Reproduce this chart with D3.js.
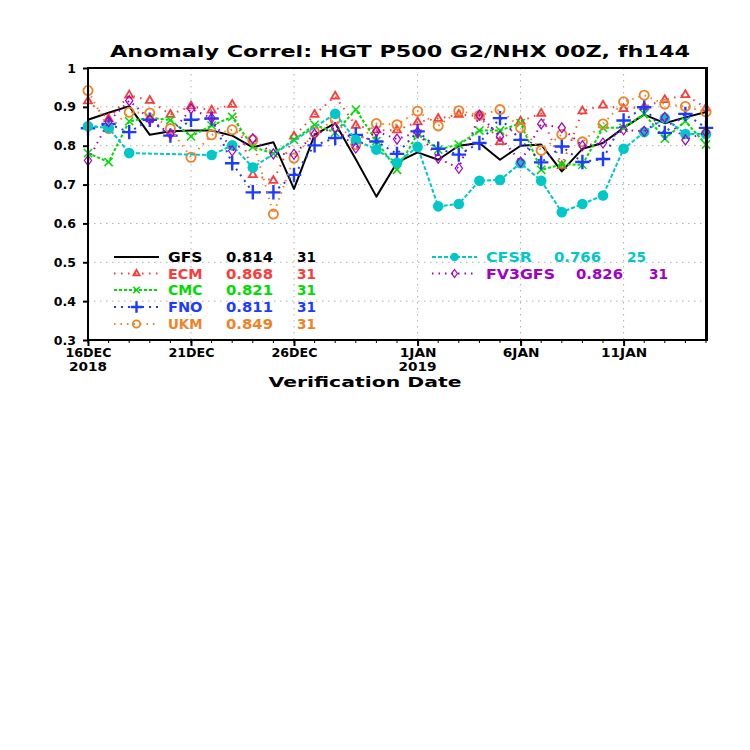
<!DOCTYPE html>
<html>
<head>
<meta charset="utf-8">
<script src="https://cdn.jsdelivr.net/npm/d3@7"></script>
<style>
  body { margin: 0; background: #fff; }
  svg { display: block; }
  text { font-family: "DejaVu Sans", sans-serif; font-weight: bold; }
</style>
</head>
<body>
<div id="chart"></div>
<script>
// ---- data ----
const startDay = Date.UTC(2018, 11, 16);
const days = d3.range(31).map(i => new Date(startDay + i * 864e5));

const gfs = [0.867, 0.885, 0.902, 0.828, 0.837, 0.839, 0.839, 0.826, 0.796, 0.809, 0.689,
  0.828, 0.858, 0.765, 0.669, 0.757, 0.783, 0.764, 0.800, 0.807, 0.764, 0.800, 0.803,
  0.734, 0.792, 0.807, 0.846, 0.880, 0.858, 0.873, 0.887];
const ecm = [0.915, 0.869, 0.930, 0.916, 0.880, 0.902, 0.891, 0.906, 0.725, 0.710, 0.824,
  0.880, 0.927, 0.852, 0.840, 0.840, 0.861, 0.870, 0.880, 0.876, 0.810, 0.863, 0.883,
  0.748, 0.889, 0.904, 0.895, 0.900, 0.918, 0.931, 0.897];
const cmc = [0.781, 0.758, 0.863, 0.872, 0.866, 0.824, 0.852, 0.874, 0.797, 0.780, 0.815,
  0.854, 0.834, 0.893, 0.812, 0.738, 0.831, 0.790, 0.803, 0.839, 0.839, 0.858, 0.738,
  0.752, 0.751, 0.846, 0.846, 0.882, 0.818, 0.863, 0.803];
const fno = [0.845, 0.856, 0.835, 0.867, 0.826, 0.867, 0.870, 0.755, 0.680, 0.680, 0.725,
  0.801, 0.820, 0.828, 0.811, 0.779, 0.837, 0.792, 0.777, 0.807, 0.871, 0.815, 0.757,
  0.798, 0.758, 0.766, 0.865, 0.899, 0.833, 0.882, 0.846];
const ukm = [0.942, 0.844, 0.886, 0.884, 0.844, 0.770, 0.828, 0.841, 0.815, 0.624, 0.768,
  0.835, 0.867, 0.803, 0.857, 0.854, 0.889, 0.851, 0.890, 0.878, 0.893, 0.846, 0.788,
  0.829, 0.810, 0.856, 0.913, 0.930, 0.907, 0.901, 0.887];
const cfsr = [0.850, 0.846, 0.781, null, null, null, 0.776, 0.801, 0.744, null, null,
  null, 0.882, 0.815, 0.790, 0.756, 0.797, 0.644, 0.650, 0.710, 0.712, 0.755, 0.710,
  0.629, 0.650, 0.672, 0.792, 0.835, 0.871, 0.830, 0.830];
const fv3gfs = [0.762, 0.862, 0.916, 0.868, 0.830, 0.895, 0.871, 0.787, 0.818, 0.779, 0.778,
  0.830, 0.846, 0.794, 0.837, 0.817, 0.835, 0.768, 0.742, 0.879, 0.824, 0.758, 0.856,
  0.846, 0.800, 0.807, 0.841, 0.837, 0.873, 0.815, 0.835];

const yTicks = [0.3, 0.4, 0.5, 0.6, 0.7, 0.8, 0.9, 1];
const yTickLabels = ["0.3", "0.4", "0.5", "0.6", "0.7", "0.8", "0.9", "1"];
const xTickDays = [0, 5, 10, 16, 21, 26];
const xTickLabels = ["16DEC", "21DEC", "26DEC", "1JAN", "6JAN", "11JAN"];
const yearLabels = [{ day: 0, text: "2018" }, { day: 16, text: "2019" }];

const series = [
  { name: "GFS", mean: "0.814", n: "31", values: gfs, color: "#000000", dash: null, width: 2, marker: null },
  { name: "ECM", mean: "0.868", n: "31", values: ecm, color: "#fa3c3c", dash: "1.5,5.5", width: 2, marker: "triangle" },
  { name: "CMC", mean: "0.821", n: "31", values: cmc, color: "#00dc00", dash: "3,2", width: 2, marker: "times" },
  { name: "FNO", mean: "0.811", n: "31", values: fno, color: "#1e3cff", dash: "2,5", width: 2, marker: "plus" },
  { name: "UKM", mean: "0.849", n: "31", values: ukm, color: "#f08228", dash: "1.5,5", width: 2, marker: "circle" },
  { name: "CFSR", mean: "0.766", n: "25", values: cfsr, color: "#00c8c8", dash: "4,2", width: 2, marker: "dot" },
  { name: "FV3GFS", mean: "0.826", n: "31", values: fv3gfs, color: "#a000c8", dash: "1.5,5", width: 2, marker: "diamond" }
];

// ---- layout ----
const width = 750, height = 750;
const plot = { left: 88, right: 706, top: 68, bottom: 340 };

const svg = d3.select("#chart").append("svg")
  .attr("width", width)
  .attr("height", height);

svg.append("rect").attr("width", width).attr("height", height).attr("fill", "#fff");

const x = d3.scaleUtc().domain([days[0], days[30]]).range([plot.left, plot.right]);
const y = d3.scaleLinear().domain([0.3, 1]).range([plot.bottom, plot.top]);

// grid
const grid = svg.append("g").attr("stroke", "#b0b0b0").attr("stroke-width", 1)
  .attr("stroke-dasharray", "1.5,4.5");
grid.selectAll("line.h")
  .data(yTicks.slice(1, -1))
  .join("line")
  .attr("x1", plot.left).attr("x2", plot.right)
  .attr("y1", d => y(d)).attr("y2", d => y(d));
grid.selectAll("line.v")
  .data(xTickDays.slice(1))
  .join("line")
  .attr("x1", d => x(days[d])).attr("x2", d => x(days[d]))
  .attr("y1", plot.top).attr("y2", plot.bottom);

// y axis
const yAxis = svg.append("g")
  .attr("transform", `translate(${plot.left},0)`)
  .call(d3.axisLeft(y).tickValues(yTicks).tickSize(5).tickPadding(7)
    .tickFormat((d, i) => yTickLabels[i]));
yAxis.select(".domain").remove();
yAxis.selectAll("line").attr("stroke", "#000").attr("stroke-width", 2);
yAxis.selectAll("text")
  .attr("font-family", "DejaVu Sans, sans-serif")
  .attr("font-weight", "bold")
  .attr("font-size", 12.5)
  .attr("fill", "#000");

// x axis: minor ticks per day, major ticks with labels
svg.append("g")
  .attr("transform", `translate(0,${plot.bottom})`)
  .selectAll("line")
  .data(days)
  .join("line")
  .attr("x1", d => x(d)).attr("x2", d => x(d))
  .attr("y1", 0).attr("y2", 3)
  .attr("stroke", "#000").attr("stroke-width", 1);

const xAxis = svg.append("g")
  .attr("transform", `translate(0,${plot.bottom})`)
  .call(d3.axisBottom(x).tickValues(xTickDays.map(i => days[i])).tickSize(6).tickPadding(6)
    .tickFormat((d, i) => xTickLabels[i]));
xAxis.select(".domain").remove();
xAxis.selectAll("line").attr("stroke", "#000").attr("stroke-width", 2);
xAxis.selectAll("text")
  .attr("font-family", "DejaVu Sans, sans-serif")
  .attr("font-weight", "bold")
  .attr("font-size", 12)
  .attr("fill", "#000")
  .attr("dy", "0.45em")
  .attr("textLength", (d, i) => xTickLabels[i].length * 9.2)
  .attr("lengthAdjust", "spacingAndGlyphs");

svg.append("g")
  .selectAll("text")
  .data(yearLabels)
  .join("text")
  .attr("x", d => x(days[d.day]))
  .attr("y", plot.bottom + 31)
  .attr("text-anchor", "middle")
  .attr("font-size", 12)
  .attr("textLength", 38)
  .attr("lengthAdjust", "spacingAndGlyphs")
  .text(d => d.text);

// axis title
svg.append("text")
  .attr("x", 365).attr("y", 387)
  .attr("text-anchor", "middle")
  .attr("font-size", 14)
  .attr("textLength", 193)
  .attr("lengthAdjust", "spacingAndGlyphs")
  .text("Verification Date");

// chart title
svg.append("text")
  .attr("x", 400).attr("y", 57)
  .attr("text-anchor", "middle")
  .attr("font-size", 16)
  .attr("textLength", 580)
  .attr("lengthAdjust", "spacingAndGlyphs")
  .text("Anomaly Correl: HGT P500 G2/NHX 00Z, fh144");

// ---- markers ----
function drawMarker(sel, kind, color, scale = 1) {
  if (kind === "triangle") {
    sel.append("path")
      .attr("d", d3.symbol(d3.symbolTriangle2, 45 * scale * scale))
      .attr("fill", "none").attr("stroke", color).attr("stroke-width", 1.8);
  } else if (kind === "times") {
    sel.append("path")
      .attr("d", d3.symbol(d3.symbolTimes, 45 * scale * scale))
      .attr("fill", "none").attr("stroke", color).attr("stroke-width", 1.5);
  } else if (kind === "plus") {
    sel.append("path")
      .attr("d", d3.symbol(d3.symbolPlus, 70 * scale * scale))
      .attr("fill", "none").attr("stroke", color).attr("stroke-width", 2.4);
  } else if (kind === "circle") {
    sel.append("circle")
      .attr("r", 4.6 * scale)
      .attr("fill", "none").attr("stroke", color).attr("stroke-width", 1.8);
  } else if (kind === "dot") {
    sel.append("circle")
      .attr("r", 5.3 * scale)
      .attr("fill", color);
  } else if (kind === "diamond") {
    sel.append("path")
      .attr("d", `M0,${-5 * scale}L${3.6 * scale},0L0,${5 * scale}L${-3.6 * scale},0Z`)
      .attr("fill", "none").attr("stroke", color).attr("stroke-width", 1.2);
  }
}

// ---- series ----
const line = d3.line()
  .x(d => x(d.date))
  .y(d => y(d.value));

const plotG = svg.append("g");
series.forEach(s => {
  const pts = s.values
    .map((v, i) => ({ date: days[i], value: v }))
    .filter(d => d.value !== null);

  plotG.append("path")
    .datum(pts)
    .attr("d", line)
    .attr("fill", "none")
    .attr("stroke", s.color)
    .attr("stroke-width", s.width)
    .attr("stroke-dasharray", s.dash)
    .attr("stroke-linejoin", "round");

  if (s.marker) {
    const m = plotG.append("g").selectAll("g")
      .data(pts)
      .join("g")
      .attr("transform", d => `translate(${x(d.date)},${y(d.value)})`);
    m.each(function () { drawMarker(d3.select(this), s.marker, s.color); });
  }
});

// frame
svg.append("rect")
  .attr("x", plot.left).attr("y", plot.top)
  .attr("width", plot.right - plot.left)
  .attr("height", plot.bottom - plot.top)
  .attr("fill", "none")
  .attr("stroke", "#000")
  .attr("stroke-width", 2);
svg.append("line")
  .attr("x1", plot.right + 1).attr("x2", plot.right + 1)
  .attr("y1", plot.top - 1).attr("y2", plot.bottom + 1)
  .attr("stroke", "#000").attr("stroke-width", 2);

// ---- legend ----
const legendCols = [
  { items: series.slice(0, 5), lineX: [114, 159], nameX: 168, meanX: 226, nX: 297 },
  { items: series.slice(5), lineX: [432, 477], nameX: 486, meanX: null, nX: null }
];
const rowY = [257, 273.5, 290, 307, 324];

legendCols.forEach((col, ci) => {
  col.items.forEach((s, ri) => {
    const g = svg.append("g").attr("transform", `translate(0,${rowY[ri]})`);
    g.append("line")
      .attr("x1", col.lineX[0]).attr("x2", col.lineX[1])
      .attr("y1", 0).attr("y2", 0)
      .attr("stroke", s.color)
      .attr("stroke-width", s.width)
      .attr("stroke-dasharray", s.dash);
    if (s.marker) {
      const mg = g.append("g").attr("transform", `translate(${(col.lineX[0] + col.lineX[1]) / 2},0)`);
      drawMarker(mg, s.marker, s.color, 0.8);
    }
    const meanX = ci === 0 ? col.meanX : (s.name === "CFSR" ? 554 : 576);
    const nX = ci === 0 ? col.nX : (s.name === "CFSR" ? 627 : 649);
    const txt = [
      { x: col.nameX, t: s.name, w: s.name.length * 11.5 },
      { x: meanX, t: s.mean, w: 47 },
      { x: nX, t: s.n, w: 19 }
    ];
    g.selectAll("text")
      .data(txt)
      .join("text")
      .attr("x", d => d.x)
      .attr("y", 5)
      .attr("font-size", 14)
      .attr("fill", s.color)
      .attr("textLength", d => d.w)
      .attr("lengthAdjust", "spacingAndGlyphs")
      .text(d => d.t);
  });
});
</script>
</body>
</html>
